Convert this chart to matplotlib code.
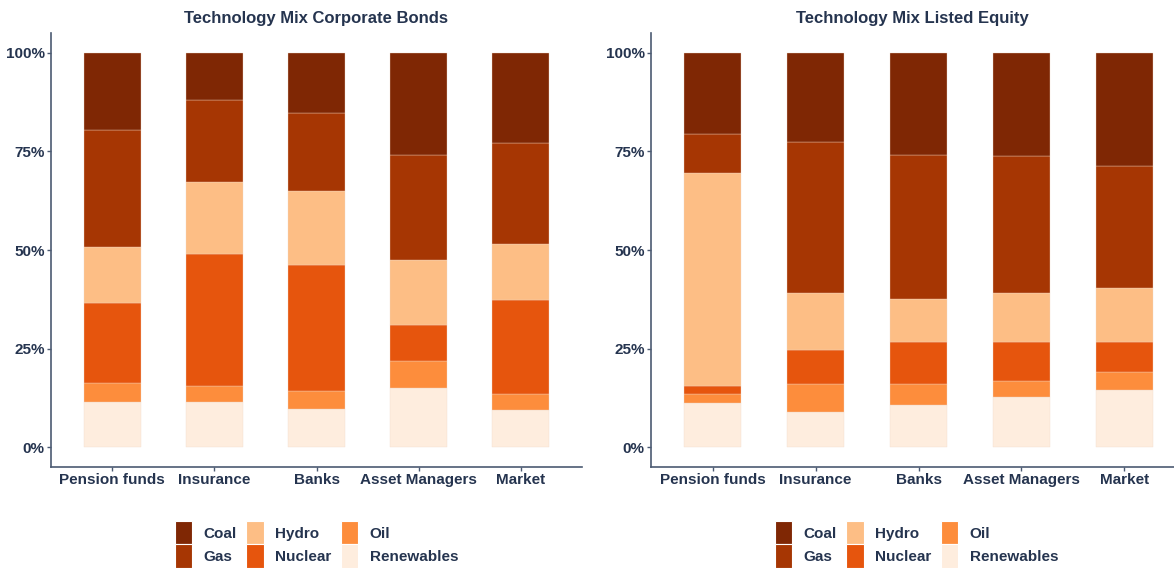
import numpy as np
import matplotlib
matplotlib.use("Agg")
import matplotlib.pyplot as plt
from matplotlib.patches import Patch
from matplotlib.ticker import PercentFormatter

# -- data -------------------------------------------------------------
categories = ["Pension funds", "Insurance", "Banks", "Asset Managers", "Market"]
techs = ["Renewables", "Oil", "Nuclear", "Hydro", "Gas", "Coal"]

# shares in %, stacked bottom -> top in the order of `techs`
bonds_renewables = [11.6, 11.6, 9.8, 15.1, 9.4]
bonds_oil = [4.8, 4.0, 4.4, 6.8, 4.0]
bonds_nuclear = [20.1, 33.5, 32.1, 9.1, 24.0]
bonds_hydro = [14.3, 18.2, 18.6, 16.4, 14.2]
bonds_gas = [29.7, 20.8, 19.9, 26.7, 25.4]
bonds_coal = [19.5, 11.9, 15.2, 25.9, 23.0]

equity_renewables = [11.3, 8.9, 10.6, 12.8, 14.5]
equity_oil = [2.3, 7.2, 5.4, 4.0, 4.7]
equity_nuclear = [2.0, 8.6, 10.6, 9.9, 7.6]
equity_hydro = [53.8, 14.4, 11.0, 12.3, 13.5]
equity_gas = [10.1, 38.2, 36.6, 34.7, 30.9]
equity_coal = [20.5, 22.7, 25.8, 26.3, 28.8]

colors = {
    "Coal": "#7F2704",
    "Gas": "#A63603",
    "Hydro": "#FDBE85",
    "Nuclear": "#E6550D",
    "Oil": "#FD8D3C",
    "Renewables": "#FEEDDE",
}

TXT = "#25344f"
SPINE = "#4b5a72"
plt.rcParams["font.family"] = ["Liberation Sans", "DejaVu Sans"]
plt.rcParams["font.weight"] = "bold"

fig = plt.figure(figsize=(11.74, 5.68), dpi=100)
ax_l = fig.add_axes((51 / 1174, 1 - 467 / 568, 531 / 1174, 434 / 568))
ax_r = fig.add_axes((651 / 1174, 1 - 467 / 568, 535 / 1174, 434 / 568))

panels = [
    (ax_l, "Technology Mix Corporate Bonds",
     [bonds_renewables, bonds_oil, bonds_nuclear, bonds_hydro, bonds_gas, bonds_coal]),
    (ax_r, "Technology Mix Listed Equity",
     [equity_renewables, equity_oil, equity_nuclear, equity_hydro, equity_gas, equity_coal]),
]

x = np.arange(len(categories))
for ax, title, series in panels:
    bottom = np.zeros(len(categories))
    for name, vals in zip(techs, series):
        vals = np.array(vals)
        ax.bar(x, vals, bottom=bottom, width=0.555, color=colors[name],
               edgecolor="#f0d8c8", linewidth=0.25)
        bottom += vals

    ax.set_xlim(-0.6, len(categories) - 0.4)
    ax.set_ylim(-5, 105)
    ax.set_yticks([0, 25, 50, 75, 100])
    ax.yaxis.set_major_formatter(PercentFormatter(decimals=0))
    ax.set_xticks(x, categories)
    ax.tick_params(colors=SPINE, labelcolor=TXT, labelsize=11, length=3, width=1, pad=1.5)
    ax.tick_params(axis="x", pad=1.5)
    for lab in ax.get_xticklabels() + ax.get_yticklabels():
        lab.set_fontweight("bold")
    for s in ["top", "right"]:
        ax.spines[s].set_visible(False)
    for s in ["left", "bottom"]:
        ax.spines[s].set_color(SPINE)
        ax.spines[s].set_linewidth(1.2)
    ax.set_title(title, color=TXT, fontsize=12, fontweight="bold", pad=7)

    order = ["Coal", "Gas", "Hydro", "Nuclear", "Oil", "Renewables"]
    handles = [Patch(facecolor=colors[n], edgecolor="white", linewidth=0.8, label=n) for n in order]
    leg = ax.legend(handles=handles, ncol=3, loc="upper center",
                    bbox_to_anchor=(0.5 * 531 / (ax.get_position().width * 1174), -0.11),
                    frameon=False, fontsize=11, handlelength=1.15, handleheight=2.0,
                    labelspacing=0.0, columnspacing=0.6, handletextpad=0.75,
                    borderaxespad=0)
    for t in leg.get_texts():
        t.set_color(TXT)
        t.set_fontweight("bold")

# keep titles centred over the visible plot area
ax_r.title.set_position((0.5 * 523 / 535, 1.0))

fig.savefig("out.png", dpi=100)
